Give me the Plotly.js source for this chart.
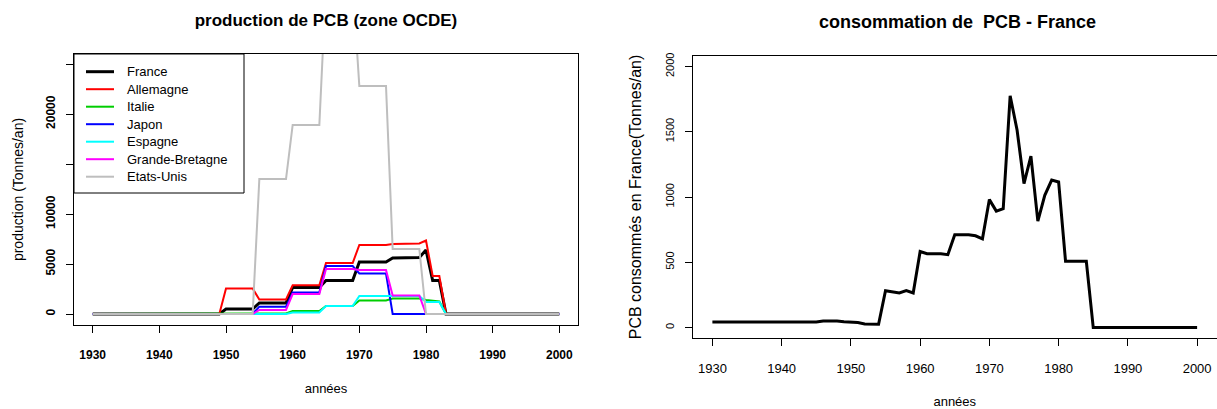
<!DOCTYPE html>
<html>
<head>
<meta charset="utf-8">
<script src="https://cdn.plot.ly/plotly-3.0.1.min.js"></script>
<style>html,body{margin:0;padding:0;background:#fff;}#chart{width:1217px;height:409px;}</style>
</head>
<body>
<div id="chart"></div>
<script>
// ---------- data ----------
const years = [1930,1931,1932,1933,1934,1935,1936,1937,1938,1939,
  1940,1941,1942,1943,1944,1945,1946,1947,1948,1949,
  1950,1951,1952,1953,1954,1955,1956,1957,1958,1959,
  1960,1961,1962,1963,1964,1965,1966,1967,1968,1969,
  1970,1971,1972,1973,1974,1975,1976,1977,1978,1979,
  1980,1981,1982,1983,1984,1985,1986,1987,1988,1989,
  1990,1991,1992,1993,1994,1995,1996,1997,1998,1999,2000];

const countries = ['France','Allemagne','Italie','Japon','Espagne','Grande-Bretagne','Etats-Unis'];
const countryColors = ['#000000','#ff0000','#00cd00','#0000ff','#00ffff','#ff00ff','#bebebe'];

const prodFrance = [0,0,0,0,0,0,0,0,0,0, 0,0,0,0,0,0,0,0,0,0,
  500,500,500,500,500, 1100,1100,1100,1100,1100,
  2650,2650,2650,2650,2650, 3350,3350,3350,3350,3350,
  5200,5200,5200,5200,5200, 5600,5600,5600,5600,5650,
  6400,3350,3350,0,0, 0,0,0,0,0, 0,0,0,0,0,0,0,0,0,0,0];
const prodAllemagne = [0,0,0,0,0,0,0,0,0,0, 0,0,0,0,0,0,0,0,0,0,
  2550,2550,2550,2550,2550, 1450,1450,1450,1450,1450,
  2870,2870,2870,2870,2870, 5100,5100,5100,5100,5100,
  6900,6900,6900,6900,6900, 7000,7000,7000,7000,7050,
  7350,3800,3800,0,0, 0,0,0,0,0, 0,0,0,0,0,0,0,0,0,0,0];
const prodItalie = [0,0,0,0,0,0,0,0,0,0, 0,0,0,0,0,0,0,0,0,0,
  0,0,0,0,0, 50,50,50,50,50,
  300,300,300,300,300, 800,800,800,800,800,
  1350,1350,1350,1350,1350, 1550,1550,1550,1550,1550,
  1400,1300,1250,0,0, 0,0,0,0,0, 0,0,0,0,0,0,0,0,0,0,0];
const prodJapon = [0,0,0,0,0,0,0,0,0,0, 0,0,0,0,0,0,0,0,0,0,
  0,0,0,0,0, 730,730,730,730,730,
  2150,2150,2150,2150,2150, 4800,4800,4800,4800,4800,
  4050,4050,4050,4050,4050, 0,0,0,0,0,
  0,0,0,0,0, 0,0,0,0,0, 0,0,0,0,0,0,0,0,0,0,0];
const prodEspagne = [0,0,0,0,0,0,0,0,0,0, 0,0,0,0,0,0,0,0,0,0,
  0,0,0,0,0, 0,0,0,0,0,
  150,150,150,150,150, 800,800,800,800,800,
  1800,1800,1800,1800,1800, 1800,1800,1800,1800,1800,
  1200,1200,1200,0,0, 0,0,0,0,0, 0,0,0,0,0,0,0,0,0,0,0];
const prodGB = [0,0,0,0,0,0,0,0,0,0, 0,0,0,0,0,0,0,0,0,0,
  0,0,0,0,0, 400,400,400,400,400,
  2000,2000,2000,2000,2000, 4500,4500,4500,4500,4500,
  4400,4400,4400,4400,4400, 1850,1850,1850,1850,1850,
  0,0,0,0,0, 0,0,0,0,0, 0,0,0,0,0,0,0,0,0,0,0];
const prodUS = [0,0,0,0,0,0,0,0,0,0, 0,0,0,0,0,0,0,0,0,0,
  0,0,0,0,0, 13500,13500,13500,13500,13500,
  18900,18900,18900,18900,18900, 33000,33000,33000,33000,33000,
  22800,22800,22800,22800,22800, 6500,6500,6500,6500,6500,
  0,0,0,0,0, 0,0,0,0,0, 0,0,0,0,0,0,0,0,0,0,0];

const consoFrance = [42,42,42,42,42,42,42,42,42,42, 42,42,42,42,42,42,50,52,50,45,
  44,38,28,25,25, 282,275,265,283,265,
  582,565,565,565,558, 711,711,711,703,680,
  980,892,910,1775,1513, 1103,1313,815,1013,1130,
  1115,508,508,508,508, 0,0,0,0,0, 0,0,0,0,0,0,0,0,0,0,0];

const xTicks = [1930,1940,1950,1960,1970,1980,1990,2000];
const yTicksLeft = [0,5000,10000,15000,20000,25000];
const yTickTextLeft = ['0','5000','10000','','20000',''];
const yTicksRight = [0,500,1000,1500,2000];

// ---------- drawing ----------
const W = 1217, H = 409;
const px = x => x / W;
const py = y => 1 - y / H;
const prodSeries = [prodFrance, prodAllemagne, prodItalie, prodJapon, prodEspagne, prodGB, prodUS];
const lineWidths = [3,2,2,2,2,2,2];

const traces = prodSeries.map((vals, i) => ({
  type: 'scatter', mode: 'lines', x: years, y: vals, name: countries[i],
  xaxis: 'x', yaxis: 'y',
  line: {color: countryColors[i], width: lineWidths[i]}
}));
traces.push({
  type: 'scatter', mode: 'lines', x: years, y: consoFrance, name: 'France',
  xaxis: 'x2', yaxis: 'y2', line: {color: '#000000', width: 3}
});

const FONT = 'Liberation Sans, Arial, Helvetica, sans-serif';
const axisCommon = {
  showgrid: false, zeroline: false, showline: true, mirror: true,
  linecolor: '#000', linewidth: 1, ticks: 'outside', ticklen: 7, tickwidth: 1,
  tickcolor: '#000', automargin: false, fixedrange: true
};

const shapes = [];
const annotations = [];
// legend (drawn by hand to reproduce the R legend box)
const legX0 = 74, legX1 = 244, legY0 = 54, legY1 = 193;
shapes.push({type: 'rect', xref: 'paper', yref: 'paper', x0: px(legX0), x1: px(legX1),
  y0: py(legY1), y1: py(legY0), line: {color: '#000', width: 1}, fillcolor: 'rgba(255,255,255,0)'});
countries.forEach((c, i) => {
  const yy = 71.7 + i * 17.5;
  shapes.push({type: 'line', xref: 'paper', yref: 'paper', x0: px(86), x1: px(114),
    y0: py(yy), y1: py(yy), line: {color: countryColors[i], width: lineWidths[i]}});
  annotations.push({xref: 'paper', yref: 'paper', x: px(125), y: py(yy), xanchor: 'left',
    yanchor: 'middle', text: c, showarrow: false, font: {size: 13, family: FONT, color: '#000'}});
});
annotations.push({xref: 'paper', yref: 'paper', x: px(957), y: py(22), xanchor: 'center',
  yanchor: 'middle', text: '<b>consommation de\u00a0 PCB - France</b>', showarrow: false,
  font: {size: 18, family: FONT, color: '#000'}});

const layout = {
  width: W, height: H,
  margin: {l: 0, r: 0, t: 0, b: 0, pad: 0},
  paper_bgcolor: '#fff', plot_bgcolor: '#fff',
  showlegend: false,
  font: {family: FONT, color: '#000', size: 12},
  title: {text: '<b>production de PCB (zone OCDE)</b>', x: px(326), xanchor: 'center',
    xref: 'paper', y: py(20), yref: 'paper', yanchor: 'middle', font: {size: 17, family: FONT, color: '#000'}},
  xaxis: Object.assign({}, axisCommon, {
    domain: [px(74), px(578)], range: [1927.2, 2002.8], anchor: 'y',
    tickvals: xTicks, tickfont: {size: 12, weight: 'bold'}, ticklabelstandoff: 12,
    title: {text: 'années', font: {size: 13}, standoff: 22}
  }),
  yaxis: Object.assign({}, axisCommon, {
    domain: [py(325), py(54)], range: [-1100, 26000], anchor: 'x',
    tickvals: yTicksLeft, ticktext: yTickTextLeft, tickangle: -90,
    tickfont: {size: 12, weight: 'bold'}, ticklabelstandoff: 6,
    title: {text: 'production (Tonnes/an)', font: {size: 14}, standoff: 17}
  }),
  xaxis2: Object.assign({}, axisCommon, {
    domain: [px(693), px(1216.5)], range: [1927.2, 2002.8], anchor: 'y2',
    tickvals: xTicks, tickfont: {size: 13}, ticklabelstandoff: 11,
    title: {text: 'années', font: {size: 13}, standoff: 25}
  }),
  yaxis2: Object.assign({}, axisCommon, {
    domain: [py(338), py(56)], range: [-80, 2080], anchor: 'x2',
    tickvals: yTicksRight, tickangle: -90, tickfont: {size: 11}, ticklabelstandoff: 7,
    title: {text: 'PCB consommés en France(Tonnes/an)', font: {size: 16}, standoff: 17}
  }),
  shapes: shapes,
  annotations: annotations
};

Plotly.newPlot('chart', traces, layout, {displayModeBar: false, staticPlot: true});
</script>
</body>
</html>
